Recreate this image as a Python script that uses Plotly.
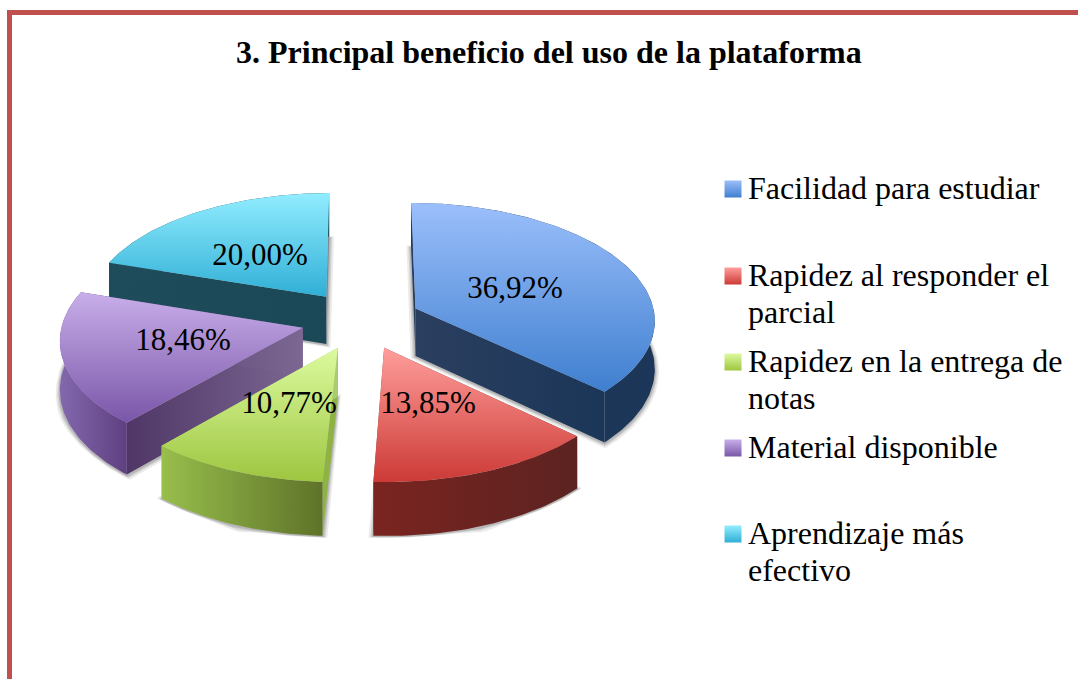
import math
import plotly.graph_objects as go

# ---------- data ----------
categories = ["Facilidad para estudiar", "Rapidez al responder el parcial",
              "Rapidez en la entrega de notas", "Material disponible",
              "Aprendizaje más efectivo"]
legend_lines = [["Facilidad para estudiar"], ["Rapidez al responder el", "parcial"],
                ["Rapidez en la entrega de", "notas"], ["Material disponible"],
                ["Aprendizaje más", "efectivo"]]
values = [36.92, 13.85, 10.77, 18.46, 20.00]
title = "3. Principal beneficio del uso de la plataforma"

# ---------- style ----------
top_colors = [("#9BBFFB", "#3F7FCF"), ("#FF9E9B", "#CC3A36"), ("#DCFA9F", "#9EC640"),
              ("#C8AEEA", "#7A56A8"), ("#92EDFF", "#30AFD6")]
rim_colors = [("#22395A", "#1B3658"), ("#7A2420", "#5C2321"), ("#98BE4C", "#5E7329"),
              ("#8468AE", "#5E4080"), ("#1E4C5B", "#1E4C5B")]
start_wall = [("#2A3F60", "#2A3F60"), ("#6C4040", "#6C4040"), ("#8FB244", "#8FB244"),
              ("#4F3666", "#7B6792"), ("#1E4C5B", "#1A4857")]
end_wall = [("#2B3F60", "#1B3658"), ("#8A4A48", "#8A4A48"), ("#A9CC6C", "#A9CC6C"),
            ("#4F3666", "#7B6792"), ("#7A8A90", "#7A8A90")]
label_pos = [(515, 290), (428, 405), (289, 405), (183, 342), (260, 257)]
legend_y = [188, 275, 361, 447, 533]
LINE_STEP = 37
draw_order = [4, 0, 3, 2, 1]

CX, CY, RX, RY, K, H, EXPLODE, ROT = 361, 320, 240, 117, 0.09, 48, 0.25, 0
TEXT = "Liberation Serif"


def project(X, Y, drop=0.0):
    s = 1 / (1 - K * Y)
    return CX + s * RX * X, CY + s * RY * Y + s * drop


def slice_geometry(a0, a1):
    mid = math.radians((a0 + a1) / 2)
    X0, Y0 = EXPLODE * math.sin(mid), -EXPLODE * math.cos(mid)
    n = max(8, int(a1 - a0))
    thetas = [math.radians(a0 + (a1 - a0) * i / n) for i in range(n + 1)]
    rim = [(X0 + math.sin(t), Y0 - math.cos(t)) for t in thetas]
    return (X0, Y0), rim


def poly(fig, pts, colors=None, kind="vertical", solid=None):
    xs = [p[0] for p in pts] + [pts[0][0]]
    ys = [p[1] for p in pts] + [pts[0][1]]
    kw = dict(x=xs, y=ys, mode="lines", line=dict(width=0), fill="toself",
              hoverinfo="skip", showlegend=False)
    if solid:
        kw["fillcolor"] = solid
    else:
        kw["fillgradient"] = dict(type=kind, colorscale=[[0, colors[0]], [1, colors[1]]],
                                  start=min(ys) if kind == "vertical" else min(xs),
                                  stop=max(ys) if kind == "vertical" else max(xs))
    fig.add_trace(go.Scatter(**kw))


def extrude(a, b):
    return [project(*a), project(*b), project(*b, H), project(*a, H)]


fig = go.Figure()
total = sum(values)
angles = [ROT]
for v in values:
    angles.append(angles[-1] + v / total * 360)

for i in draw_order:
    apex, rim = slice_geometry(angles[i], angles[i + 1])
    outline_bottom = [project(*apex, H)] + [project(*p, H) for p in rim]
    # soft shadow
    gx = sum(p[0] for p in outline_bottom) / len(outline_bottom)
    gy = sum(p[1] for p in outline_bottom) / len(outline_bottom)
    for grow, alpha in ((5, 0.10), (3, 0.14), (1.5, 0.18)):
        pts = []
        for px, py in outline_bottom:
            dx, dy = px - gx, py - gy
            r = math.hypot(dx, dy) or 1
            pts.append((px + dx / r * grow, py + dy / r * grow + 1))
        poly(fig, pts, solid=f"rgba(60,60,60,{alpha})")
    # radial walls
    poly(fig, extrude(apex, rim[0]), start_wall[i], "horizontal")
    poly(fig, extrude(apex, rim[-1]), end_wall[i], "horizontal")
    # outer wall
    rim_poly = [project(*p) for p in rim] + [project(*p, H) for p in reversed(rim)]
    poly(fig, rim_poly, rim_colors[i], "horizontal")
    # top face
    poly(fig, [project(*apex)] + [project(*p) for p in rim], top_colors[i], "vertical")

# percentage labels
fig.add_trace(go.Scatter(
    x=[p[0] for p in label_pos], y=[p[1] for p in label_pos], mode="text",
    text=[f"{v:.2f}%".replace(".", ",") for v in values],
    textposition="middle center", textfont=dict(family=TEXT, size=31, color="black"),
    hoverinfo="skip", showlegend=False))

# legend swatches
fig.add_trace(go.Scatter(
    x=[733] * 5, y=[y + 1 for y in legend_y], mode="markers", hoverinfo="skip", showlegend=False,
    marker=dict(symbol="square", size=17, color=[c[0] for c in top_colors],
                gradient=dict(type="vertical", color=[c[1] for c in top_colors]),
                line=dict(width=0))))

annotations = [dict(x=548.5, xref="x", y=52, yref="y", text=f"<b>{title}</b>",
                    showarrow=False, font=dict(family=TEXT, size=32, color="black"))]
for y, lines in zip(legend_y, legend_lines):
    for j, t in enumerate(lines):
        annotations.append(dict(x=746, y=y + j * LINE_STEP, xref="x", yref="y", text=t,
                                showarrow=False, xanchor="left", yanchor="middle",
                                font=dict(family=TEXT, size=32, color="black")))

fig.update_layout(
    width=1078, height=679, margin=dict(l=0, r=0, t=0, b=0),
    paper_bgcolor="white", plot_bgcolor="white", showlegend=False,
    xaxis=dict(range=[0, 1078], visible=False, fixedrange=True),
    yaxis=dict(range=[679, 0], visible=False, fixedrange=True),
    annotations=annotations,
    shapes=[dict(type="rect", xref="x", yref="y", x0=9.5, y0=12.5, x1=1200, y1=800,
                 line=dict(color="#C0504D", width=5), layer="below")])

fig.write_html("out.html", config={"displayModeBar": False},
               post_script="document.body.style.margin='0';document.documentElement.style.overflow='hidden';")
